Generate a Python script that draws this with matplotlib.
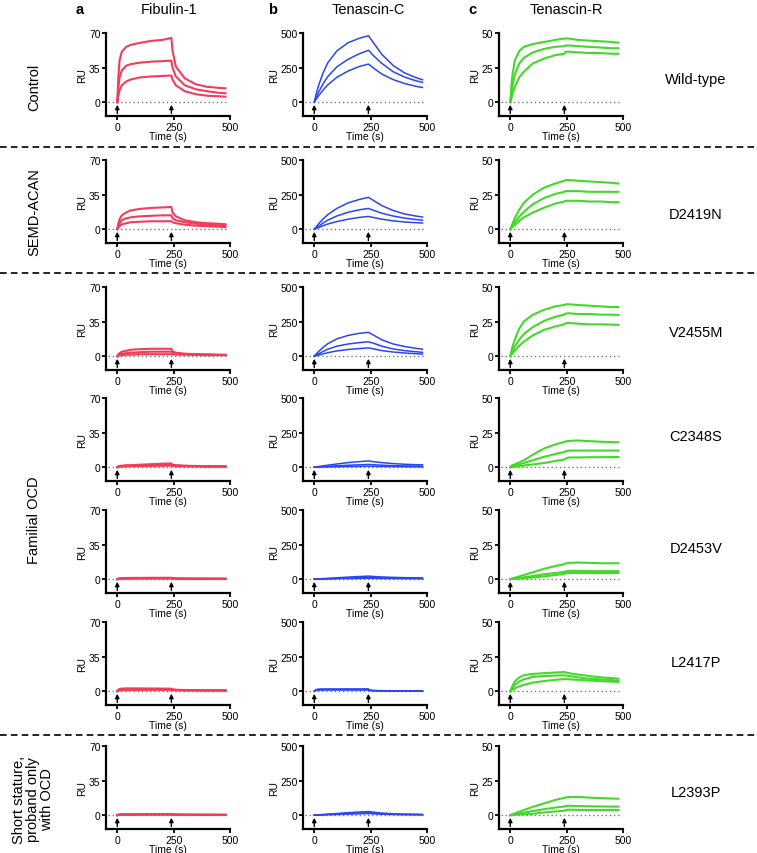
import numpy as np
import matplotlib
matplotlib.use('Agg')
import matplotlib.pyplot as plt
import matplotlib.transforms as mtransforms

plt.rcParams['font.family'] = ['Liberation Sans', 'DejaVu Sans']

W, H = 757, 854

# sampled time points (s) shared by every sensorgram
T = [0, 5, 10, 20, 40, 60, 100, 150, 200, 240, 245, 260, 300, 350, 400, 450, 480]

proteins = ['Fibulin-1', 'Tenascin-C', 'Tenascin-R']
letters = ['a', 'b', 'c']
variants = ['Wild-type', 'D2419N', 'V2455M', 'C2348S', 'D2453V', 'L2417P', 'L2393P']
colors = ['#F23C5A', '#2A46F0', '#43D92A']
yticks = [[0, 35, 70], [0, 250, 500], [0, 25, 50]]
ylims = [(-14, 70), (-100, 500), (-10, 50)]

# RU values, three concentrations each (top, middle, bottom)
fib_wt = [[0, 26, 42, 51, 56, 58, 60, 62, 63, 65, 52, 36, 24, 18, 15.5, 14.5, 14],
          [0, 15, 25, 32, 37, 38.5, 40, 41, 41.5, 42, 35, 26, 17, 13, 11, 9.5, 9],
          [0, 7, 12, 17, 21, 23, 25, 26, 26.5, 27, 23, 17, 11, 8, 6.5, 6, 5.5]]
tnc_wt = [[0, 35, 70, 125, 215, 285, 370, 430, 462, 480, 470, 435, 345, 265, 212, 178, 162],
          [0, 20, 40, 75, 135, 185, 255, 310, 350, 375, 368, 340, 280, 220, 182, 155, 143],
          [0, 12, 25, 48, 90, 125, 180, 225, 258, 275, 270, 250, 203, 163, 135, 115, 106]]
tnr_wt = [[0, 12, 20, 30, 37, 40, 42, 43.5, 45, 46, 46, 46, 45, 44.5, 44, 43.5, 43],
          [0, 7, 12, 20, 28, 32, 36, 38.5, 40, 40.5, 41, 41, 40.5, 40, 39.5, 39, 39],
          [0, 3, 6, 11, 18, 22, 28, 31.5, 34, 35, 36.5, 36.5, 36, 35.5, 35.5, 35, 35]]

fib_d2419n = [[0, 6, 10, 14, 17, 19, 20.5, 21.5, 22, 22.5, 17, 13, 9, 7, 6, 5.5, 5],
              [0, 3.5, 6, 9, 11, 12, 13, 13.5, 14, 14, 11, 9, 7, 5.5, 4.5, 4, 3.5],
              [0, 2, 3, 5, 6, 7, 7.5, 8, 8, 8, 7, 6, 4.5, 3.5, 3, 2.5, 2]]
tnc_d2419n = [[0, 10, 20, 40, 75, 105, 150, 190, 215, 230, 226, 210, 170, 135, 110, 95, 88],
              [0, 5, 11, 22, 45, 65, 95, 122, 140, 150, 147, 138, 115, 95, 80, 70, 65],
              [0, 3, 6, 12, 25, 37, 55, 72, 85, 92, 90, 85, 72, 60, 52, 47, 44]]
tnr_d2419n = [[0, 2, 4, 8, 14, 19, 25, 30, 33, 35, 35.5, 35.5, 35, 34.5, 34, 33.5, 33],
              [0, 1.3, 2.5, 5, 9, 12.5, 18, 22.5, 25.5, 27, 27.5, 27.5, 27.5, 27, 27, 27, 27],
              [0, 0.8, 1.5, 3, 6, 8.5, 12, 15.5, 18.5, 20, 20.5, 20.5, 20.5, 20, 20, 19.5, 19.5]]

fib_v2455m = [[0, 2, 3, 4.5, 5.5, 6.5, 7, 7.5, 7.5, 7.5, 5, 3.5, 2.5, 2, 1.8, 1.5, 1.5],
              [0, 1.2, 2, 2.5, 3, 3.5, 4, 4.5, 4.5, 4.5, 3.5, 2.5, 2, 1.8, 1.5, 1.2, 1.2],
              [0, 0.5, 0.8, 1, 1.5, 1.5, 2, 2, 2, 2, 1.8, 1.5, 1.5, 1.2, 1, 1, 1]]
tnc_v2455m = [[0, 9, 18, 35, 65, 90, 125, 150, 165, 172, 168, 155, 118, 88, 70, 57, 50],
              [0, 4, 9, 18, 35, 50, 72, 88, 98, 104, 101, 95, 72, 52, 40, 32, 28],
              [0, 2, 4, 8, 17, 25, 38, 48, 55, 60, 58, 54, 40, 30, 23, 18, 15]]
tnr_v2455m = [[0, 3.5, 7, 12, 20, 25, 30, 33.5, 36, 37, 37.5, 37.5, 37, 36.5, 36, 35.5, 35.5],
              [0, 2, 3.8, 7, 12, 16, 21, 25.5, 28.5, 30, 30.8, 31, 30.5, 30.5, 30, 30, 29.8],
              [0, 1, 2, 4, 7.5, 10.5, 15, 19, 21.5, 23, 23.8, 24, 23.5, 23, 23, 22.8, 22.6]]

fib_c2348s = [[0, 1, 1.3, 1.5, 2, 2, 2.5, 3, 3.5, 3.8, 2.5, 2, 1.5, 1.2, 1, 1, 1],
              [0, 0.6, 0.8, 1, 1.2, 1.4, 1.8, 2, 2.3, 2.5, 1.8, 1.5, 1.2, 1, 0.8, 0.8, 0.8],
              [0, 0.3, 0.5, 0.7, 0.8, 1, 1.2, 1.3, 1.4, 1.5, 1.2, 1, 0.8, 0.7, 0.6, 0.5, 0.5]]
tnc_c2348s = [[0, 1, 2.5, 5, 10, 14, 23, 33, 40, 45, 44, 40, 33, 26, 21, 18, 17],
              [0, 0.5, 1, 2, 4, 6, 10, 14, 17, 20, 19.5, 18, 14, 11, 9, 8, 7],
              [0, 0.2, 0.3, 0.6, 1.2, 1.8, 3, 4.5, 6, 7, 6.8, 6.2, 5, 4, 3, 2.5, 2]]
tnr_c2348s = [[0, 1, 1.5, 2, 3.5, 5, 9, 13.5, 16.5, 18.2, 18.6, 19, 19.3, 18.8, 18.4, 18.1, 18],
              [0, 0.4, 0.7, 1, 2, 3, 5, 7.5, 9.5, 11, 11.5, 12, 12, 12, 12, 12, 12],
              [0, 0.1, 0.2, 0.4, 0.7, 1.2, 2, 3, 4.5, 5.5, 6.2, 7, 7, 7.2, 7.2, 7.3, 7.3]]

fib_d2453v = [[0, 0.6, 0.8, 1, 1.2, 1.3, 1.3, 1.4, 1.4, 1.4, 1, 0.8, 0.7, 0.6, 0.6, 0.5, 0.5],
              [0, 0.4, 0.5, 0.7, 0.8, 0.9, 1, 1, 1, 1, 0.8, 0.6, 0.5, 0.5, 0.4, 0.4, 0.4],
              [0, 0.2, 0.3, 0.4, 0.5, 0.5, 0.6, 0.6, 0.6, 0.6, 0.5, 0.4, 0.3, 0.3, 0.3, 0.3, 0.2]]
tnc_d2453v = [[0, 0.5, 1, 2, 4, 6, 10, 15, 19, 22, 21.5, 20, 16, 13, 11, 10, 9],
              [0, 0.3, 0.6, 1.2, 2.5, 3.5, 6, 8.5, 10.5, 12, 11.8, 11, 9, 7.5, 6.5, 6, 5.5],
              [0, 0.2, 0.3, 0.6, 1.2, 1.8, 3, 4.5, 5.5, 6.5, 6.3, 6, 5, 4.2, 3.7, 3.3, 3]]
tnr_d2453v = [[0, 0.3, 0.6, 1, 2, 3, 5, 7.5, 9.5, 10.8, 11.3, 11.8, 12, 11.8, 11.5, 11.5, 11.5],
              [0, 0.1, 0.2, 0.4, 0.8, 1.3, 2.3, 3.5, 4.5, 5.2, 5.6, 6, 6, 5.8, 5.8, 5.8, 5.8],
              [0, 0.1, 0.1, 0.2, 0.4, 0.7, 1.2, 2, 3, 3.8, 4.2, 4.5, 4.5, 4.4, 4.4, 4.5, 4.5]]

fib_l2417p = [[0, 1.5, 2.2, 2.6, 2.8, 2.8, 2.8, 2.7, 2.6, 2.5, 1.8, 1.4, 1.2, 1.1, 1, 1, 1],
              [0, 1, 1.5, 1.8, 2, 2, 2, 2, 2, 2, 1.5, 1.2, 1, 0.9, 0.8, 0.8, 0.8],
              [0, 0.5, 0.8, 1, 1.2, 1.2, 1.3, 1.3, 1.3, 1.3, 1, 0.8, 0.7, 0.6, 0.6, 0.6, 0.6]]
tnc_l2417p = [[0, 8, 12, 15, 16, 16, 16, 16, 16, 16, 9, 5, 3.5, 3, 2.5, 2.5, 2.5],
              [0, 6, 9, 11, 12, 12, 12, 12, 12, 12, 7, 4, 2.5, 2, 2, 2, 2],
              [0, 4, 6, 8, 8.5, 8.5, 8.5, 8.5, 8.5, 8.5, 5, 3, 2, 1.5, 1.5, 1.5, 1.5]]
tnr_l2417p = [[0, 2, 4, 7, 10, 11.5, 12.5, 13, 13.5, 13.8, 13.6, 13, 12, 11, 10, 9.5, 9],
              [0, 1.2, 2.5, 4.5, 7, 8.5, 10.3, 11, 11.3, 11.5, 11.3, 11, 10, 9, 8.5, 8, 7.5],
              [0, 0.5, 1, 2, 3.5, 4.5, 6.2, 7.3, 8.2, 8.7, 8.7, 8.6, 8.2, 7.7, 7.2, 6.9, 6.7]]

fib_l2393p = [[0, 0.5, 0.7, 0.9, 1, 1, 1, 1, 1.1, 1.1, 0.9, 0.7, 0.6, 0.6, 0.5, 0.5, 0.5],
              [0, 0.3, 0.5, 0.6, 0.7, 0.7, 0.7, 0.8, 0.8, 0.8, 0.6, 0.5, 0.4, 0.4, 0.4, 0.3, 0.3],
              [0, 0.2, 0.3, 0.4, 0.4, 0.4, 0.5, 0.5, 0.5, 0.5, 0.4, 0.3, 0.3, 0.2, 0.2, 0.2, 0.2]]
tnc_l2393p = [[0, 0.6, 1.2, 2.5, 5, 7.5, 12, 18, 23, 26, 25, 22, 15, 10, 7, 6, 5],
              [0, 0.4, 0.8, 1.6, 3.2, 5, 8, 12, 15, 17, 16.5, 14.5, 10, 7, 5, 4.5, 4],
              [0, 0.3, 0.6, 1, 2, 3.2, 5, 8, 10, 11.5, 11, 10, 7, 5, 4, 3.5, 3]]
tnr_l2393p = [[0, 0.3, 0.6, 1.2, 2.5, 3.7, 6, 8.5, 11, 12.5, 12.8, 13.1, 13.2, 12.7, 12.3, 12, 11.9],
              [0, 0.15, 0.3, 0.6, 1.2, 1.8, 3, 4.3, 5.5, 6.3, 6.6, 6.8, 6.6, 6.4, 6.3, 6.2, 6.2],
              [0, 0.05, 0.1, 0.2, 0.4, 0.6, 1, 2, 2.7, 3.2, 3.6, 4, 3.8, 3.7, 3.7, 3.7, 3.7]]

grid = [[fib_wt, tnc_wt, tnr_wt],
        [fib_d2419n, tnc_d2419n, tnr_d2419n],
        [fib_v2455m, tnc_v2455m, tnr_v2455m],
        [fib_c2348s, tnc_c2348s, tnr_c2348s],
        [fib_d2453v, tnc_d2453v, tnr_d2453v],
        [fib_l2417p, tnc_l2417p, tnr_l2417p],
        [fib_l2393p, tnc_l2393p, tnr_l2393p]]

# layout in pixels
col_left = [106, 303, 499]
col_w = 124
row_top = [34, 161, 288, 399, 511, 623, 747]
row_h = 83
label_y = [80, 215, 333, 437, 549, 663, 793]
sep_y = [148, 274, 736]

fig = plt.figure(figsize=(W / 100, H / 100), dpi=100)

def fx(x):
    return x / W

def fy(y):
    return 1 - y / H

for r in range(7):
    for c in range(3):
        ax = fig.add_axes([fx(col_left[c]), fy(row_top[r] + row_h), col_w / W, row_h / H])
        lw = 1.1 if c == 1 else 1.5
        for curve in grid[r][c]:
            ax.plot(T, curve, color=colors[c], lw=lw, solid_joinstyle='round')
        ax.plot([-40, 490], [0, 0], ls=(0, (1, 2)), color='#777777', lw=1, zorder=0)
        trans = mtransforms.blended_transform_factory(ax.transData, ax.transAxes)
        for t0 in [0, 240]:
            ax.annotate('', xy=(t0, 0.135), xytext=(t0, 0.03), xycoords=trans, textcoords=trans,
                        arrowprops=dict(arrowstyle='-|>', color='k', lw=1, mutation_scale=6,
                                        shrinkA=0, shrinkB=0))
        ax.set_xlim(-50, 500)
        ax.set_ylim(*ylims[c])
        ax.set_xticks([0, 250, 500])
        ax.set_yticks(yticks[c])
        for s in ['top', 'right']:
            ax.spines[s].set_visible(False)
        for s in ['left', 'bottom']:
            ax.spines[s].set_linewidth(1.6)
        ax.tick_params(width=1.3, length=3, labelsize=7.5, pad=1)
        ax.set_xlabel('Time (s)', fontsize=7.5, labelpad=-0.5)
        ax.set_ylabel('RU', fontsize=7.5, labelpad=1)
        ax.patch.set_alpha(0)

    fig.text(fx(696), fy(label_y[r]), variants[r], fontsize=10.5, ha='center', va='center')

# column headers
header_x = [169, 368, 566]
letter_x = [80, 273, 472]
for c in range(3):
    fig.text(fx(header_x[c]), fy(10), proteins[c], fontsize=10.5, ha='center', va='center')
    fig.text(fx(letter_x[c]), fy(10), letters[c], fontsize=10.5, fontweight='bold', ha='center', va='center')

# group labels on the left
fig.text(fx(34), fy(87), 'Control', fontsize=10.5, rotation=90, ha='center', va='center')
fig.text(fx(34), fy(212), 'SEMD-ACAN', fontsize=10.5, rotation=90, ha='center', va='center')
fig.text(fx(34), fy(520), 'Familial OCD', fontsize=10.5, rotation=90, ha='center', va='center')
fig.text(fx(33), fy(800), 'Short stature,\nproband only\nwith OCD', fontsize=10.5, rotation=90,
         ha='center', va='center', multialignment='center', linespacing=1.0)

# dashed separators
for y in sep_y:
    fig.add_artist(plt.Line2D([0, 1], [fy(y), fy(y)], color='k', lw=1.2, ls=(0, (4, 2.5)),
                              transform=fig.transFigure))

fig.savefig('out.png', dpi=100)
